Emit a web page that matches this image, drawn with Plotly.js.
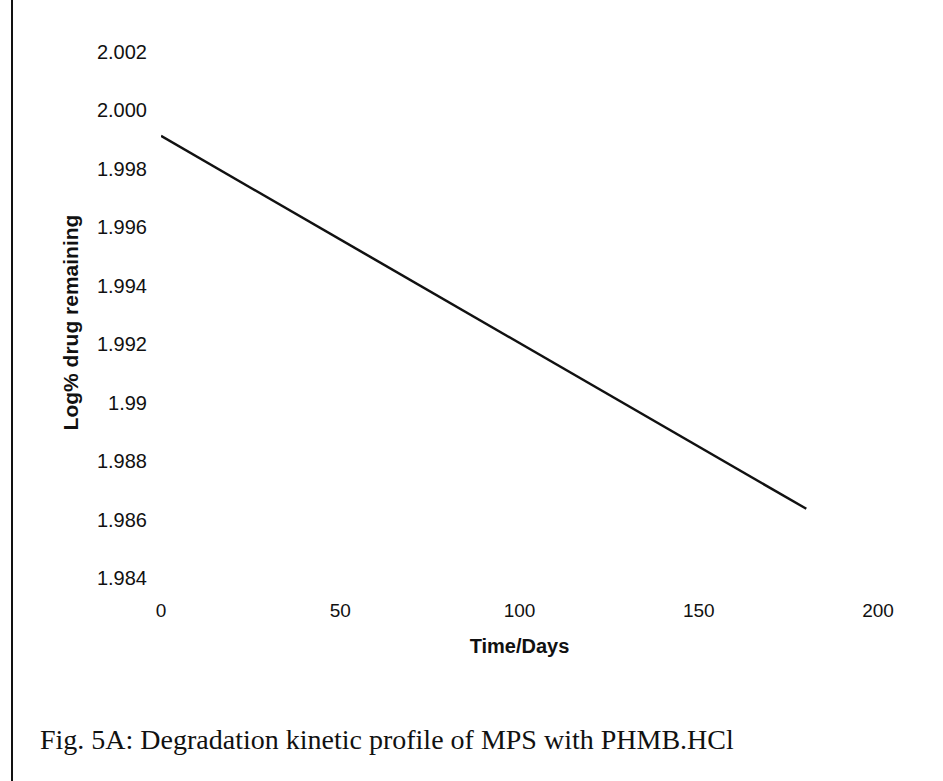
<!DOCTYPE html>
<html>
<head>
<meta charset="utf-8">
<script src="https://cdn.plot.ly/plotly-3.0.1.min.js"></script>
<style>html,body{margin:0;padding:0;background:#fff;}#chart{width:943px;height:781px;}</style>
</head>
<body>
<div id="chart"></div>
<script>
// Data
var timeDays = [0, 180];
var logRemaining = [1.99913, 1.98638];
var yTickVals = [2.002, 2.000, 1.998, 1.996, 1.994, 1.992, 1.990, 1.988, 1.986, 1.984];
var yTickText = ["2.002", "2.000", "1.998", "1.996", "1.994", "1.992", "1.99", "1.988", "1.986", "1.984"];
var xTickVals = [0, 50, 100, 150, 200];
var xTickText = ["0", "50", "100", "150", "200"];
var xTitle = "Time/Days";
var yTitle = "Log% drug remaining";
var caption = "Fig. 5A: Degradation kinetic profile of MPS with PHMB.HCl";

var trace = {
  x: timeDays,
  y: logRemaining,
  mode: "lines",
  type: "scatter",
  line: {color: "#111", width: 2.5},
  hoverinfo: "x+y"
};

var layout = {
  width: 943,
  height: 781,
  paper_bgcolor: "#ffffff",
  plot_bgcolor: "rgba(0,0,0,0)",
  margin: {l: 161, r: 65, t: 52, b: 188, pad: 0},
  showlegend: false,
  font: {family: "Liberation Sans, Arial, sans-serif", color: "#111"},
  xaxis: {
    range: [0, 200],
    tickvals: xTickVals,
    ticktext: xTickText,
    showgrid: false,
    zeroline: false,
    showline: false,
    ticks: "",
    ticklabelstandoff: 4,
    tickfont: {size: 19, color: "#111"},
    title: {text: xTitle, font: {size: 20, color: "#111", weight: "bold"}, standoff: 18},
    automargin: false,
    fixedrange: true
  },
  yaxis: {
    range: [1.9835, 2.002],
    tickvals: yTickVals,
    ticktext: yTickText,
    showgrid: false,
    zeroline: false,
    showline: false,
    ticks: "",
    ticklabelstandoff: 13,
    tickfont: {size: 20, color: "#111"},
    title: {text: yTitle, font: {size: 21, color: "#111", weight: "bold"}, standoff: 12},
    automargin: false,
    fixedrange: true
  },
  shapes: [{
    type: "line", xref: "paper", yref: "paper",
    x0: -0.2078, x1: -0.2078, y0: -0.5, y1: 1.2,
    line: {color: "#111", width: 2}
  }],
  annotations: [{
    text: caption,
    xref: "paper", yref: "paper",
    x: -0.172, y: -0.27,
    xanchor: "left", yanchor: "middle",
    showarrow: false,
    font: {family: "Liberation Serif, Times New Roman, serif", size: 28, color: "#111"}
  }]
};

Plotly.newPlot("chart", [trace], layout, {displayModeBar: false, staticPlot: false});
</script>
</body>
</html>
